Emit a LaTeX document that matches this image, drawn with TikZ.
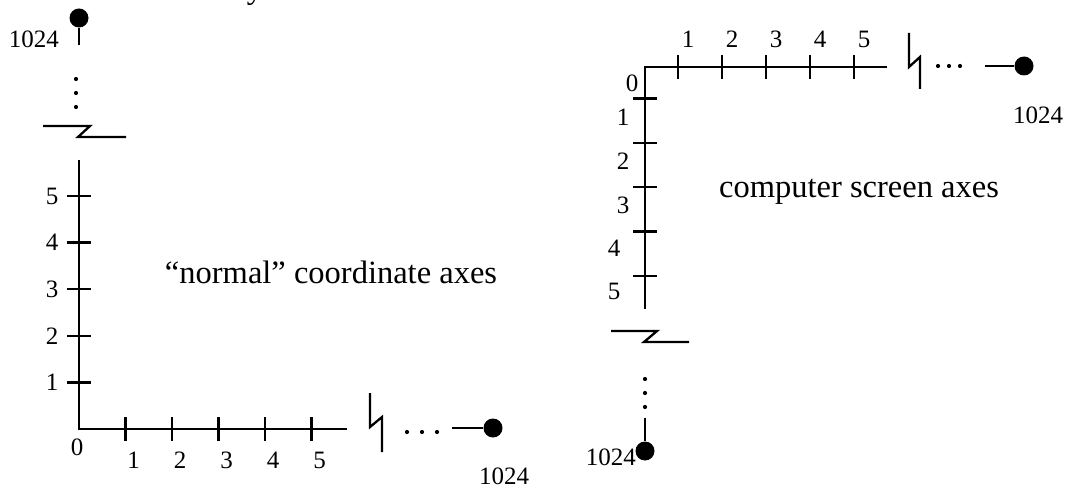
\documentclass[tikz,border=0pt]{standalone}
\usepackage{fontspec}
\setmainfont{Liberation Serif}
\begin{document}
\begin{tikzpicture}[x=1pt,y=-1pt,
  ax/.style={line width=2.3pt},
  lbl/.style={font=\fontsize{25}{25}\selectfont, inner sep=0pt},
  captext/.style={font=\fontsize{32.5}{33}\selectfont, inner sep=0pt},
  enddot/.style={circle, fill=black, inner sep=0pt, minimum size=19pt},
  smalldot/.style={circle, fill=black, inner sep=0pt, minimum size=4.2pt}]
\useasboundingbox (0,0) rectangle (1068,489);
\clip (0,0) rectangle (1068,489);

% clipped glyph at the top edge
\node[captext, anchor=base] (ytail) at (255,-1) {y};

% ---------------- left: "normal" axes ----------------
\coordinate (O1) at (79,429);
\coordinate (V1top) at (79,160);
\coordinate (H1end) at (347,429);
\draw[ax] (V1top) -- (O1) -- (H1end);
\foreach \i in {1,...,5}{
  \pgfmathsetmacro{\yy}{429-46.6*\i}
  \draw[ax] (67,\yy) -- (91,\yy);
  \node[lbl] (ly\i) at (52,\yy) {\i};
  \pgfmathsetmacro{\xx}{79+46.5*\i}
  \draw[ax] (\xx,417) -- (\xx,441);
  \node[lbl] (lx\i) at (\xx+8,460) {\i};
}
\node[lbl] (l0) at (77,447) {0};
% break on x axis
\draw[ax] (370,393) -- (370,427) -- (382,417) -- (382,452);
\node[smalldot] (hd1) at (407,432) {};
\node[smalldot] (hd2) at (422,432) {};
\node[smalldot] (hd3) at (437,432) {};
\node[enddot] (xend1) at (493,428) {};
\coordinate (xs1) at (452,428);
\draw[ax] (xs1) -- (xend1);
\node[lbl] (x1024a) at (504,476) {1024};
% top of y axis
\node[enddot] (yend1) at (79,18) {};
\coordinate (ys1) at (79,45);
\draw[ax] (yend1) -- (ys1);
\node[lbl] (y1024a) at (34,39) {1024};
\node[smalldot] (vd1) at (76,79) {};
\node[smalldot] (vd2) at (76,93) {};
\node[smalldot] (vd3) at (76,107) {};
\draw[ax] (43,126) -- (90,126) -- (78,137) -- (126,137);
\node[captext] (normal) at (331,272) {“normal” coordinate axes};

% ---------------- right: computer screen axes ----------------
\coordinate (O2) at (645,67);
\coordinate (H2end) at (887,67);
\coordinate (V2end) at (645,309);
\draw[ax] (H2end) -- (O2) -- (V2end);
\foreach \i in {1,...,5}{
  \pgfmathsetmacro{\xx}{634+44*\i}
  \draw[ax] (\xx,55) -- (\xx,79);
  \node[lbl] (rx\i) at (\xx+10,39) {\i};
  \pgfmathsetmacro{\yy}{54+44.4*\i}
  \draw[ax] (633,\yy) -- (657,\yy);
}
\node[lbl] (r0) at (632,83) {0};
\node[lbl] (ry1) at (623,117) {1};
\node[lbl] (ry2) at (623,161) {2};
\node[lbl] (ry3) at (623,205) {3};
\node[lbl] (ry4) at (614,248) {4};
\node[lbl] (ry5) at (614,291) {5};
% break on x axis
\draw[ax] (909,33) -- (909,67) -- (920,57) -- (920,89);
\node[smalldot] (rhd1) at (938,66) {};
\node[smalldot] (rhd2) at (949,66) {};
\node[smalldot] (rhd3) at (960,66) {};
\node[enddot] (xend2) at (1024,66) {};
\coordinate (xs2) at (985,66);
\draw[ax] (xs2) -- (xend2);
\node[lbl] (x1024b) at (1038,115) {1024};
% break on y axis
\draw[ax] (611,331) -- (657,331) -- (644,342) -- (689,342);
\node[smalldot] (rvd1) at (645,379) {};
\node[smalldot] (rvd2) at (645,393) {};
\node[smalldot] (rvd3) at (645,407) {};
\node[enddot] (yend2) at (645,451) {};
\coordinate (ys2) at (645,418);
\draw[ax] (ys2) -- (yend2);
\node[lbl, anchor=east] (y1024b) at (636,457) {1024};
\node[captext] (screen) at (859,192) {computer screen axes};
\end{tikzpicture}
\end{document}
